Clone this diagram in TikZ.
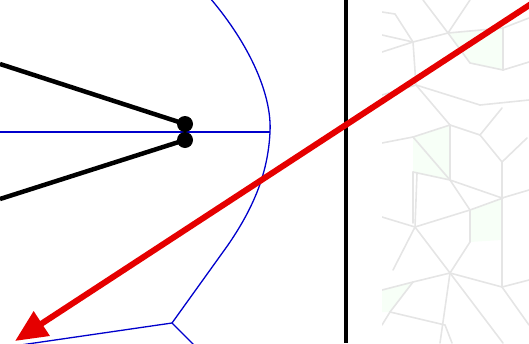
\documentclass[tikz,border=0pt]{standalone}
\usepackage{tikz}
\usetikzlibrary{arrows.meta}
\colorlet{tilecol}{black!10}
\colorlet{tilefill}{green!40!white!8}
\colorlet{raycol}{blue!80!black}
\colorlet{armcol}{black}
\colorlet{wallcol}{black}
\colorlet{arrowcol}{red!90!black}

\begin{document}
\begin{tikzpicture}[x=1pt, y=-1pt, >=Stealth]

  \useasboundingbox (0,0) rectangle (529,343);
  \clip (0,0) rectangle (529,343);

  % Faint tiling behind the wall.
  \fill[tilefill] (470,210) -- (503,198) -- (502,240) -- (470,242) -- cycle;
  \fill[tilefill] (448,33) -- (503,28) -- (503,70) -- (470,63) -- cycle;
  \fill[tilefill] (382,290) -- (413,282) -- (390,312) -- (382,312) -- cycle;
  \fill[tilefill] (413,137) -- (450,125) -- (450,180) -- (413,172) -- cycle;
  \foreach \xa/\ya/\xb/\yb in {
      423/0/448/33, 470/0/448/33, 448/33/413/42,
      413/42/382/52, 395/14/413/42, 382/12/395/14,
      413/42/416/85, 448/33/503/28, 503/28/503/70,
      448/33/470/63, 470/63/503/70, 503/70/529/62,
      503/28/529/18, 416/85/382/95, 416/85/450/125,
      416/85/480/105, 480/105/529/100, 450/125/413/137,
      413/137/382/143, 450/125/480/135, 480/135/502/108,
      480/135/502/162, 502/162/527/138, 413/137/450/180,
      413/172/413/223, 450/180/413/172, 450/180/502/198,
      502/162/502/198, 502/198/529/190, 450/180/470/210,
      470/210/503/198, 470/210/470/242, 502/198/502/287,
      415/227/470/210, 415/227/450/273, 415/227/393/270,
      415/227/382/217, 415/227/417/173, 450/273/470/242,
      450/273/502/287, 450/273/413/282, 413/282/382/290,
      450/273/440/343, 450/273/503/343, 502/287/529/280,
      413/282/390/312, 390/312/445/325, 445/325/452/343,
      502/287/529/325, 390/312/382/325, 450/125/450/180,
      413/42/382/35%
    } {
    \draw[tilecol, line width=1.6pt, line cap=round] (\xa,\ya) -- (\xb,\yb);
  }
  \fill[white] (352,0) rectangle (382,343);

  % Horizontal ray.
  \draw[raycol, line width=1.3pt] (0,132) -- (270,132);

  % Curved front.
  \draw[raycol, line width=1.3pt] (210,-2)
    .. controls (250,45) and (272,95) .. (270,132)
    .. controls (268,175) and (252,210) .. (228,245)
    -- (172,323);
  \draw[raycol, line width=1.3pt] (172,323) -- (0,348);
  \draw[raycol, line width=1.3pt] (172,323) -- (194,345);

  % Arms meeting at the joints.
  \draw[armcol, line width=4.5pt] (0,64) -- (185,124);
  \draw[armcol, line width=4.5pt] (0,199) -- (185,140);
  \fill[armcol] (185,124) circle (8);
  \fill[armcol] (185,140) circle (8);

  % Vertical wall.
  \draw[wallcol, line width=3.8pt] (346,0) -- (346,343);

  % Incoming ray.
  \draw[arrowcol, line width=6pt,
    -{Triangle[length=32pt, width=28pt]}] (531,4) -- (15,341);

\end{tikzpicture}
\end{document}
